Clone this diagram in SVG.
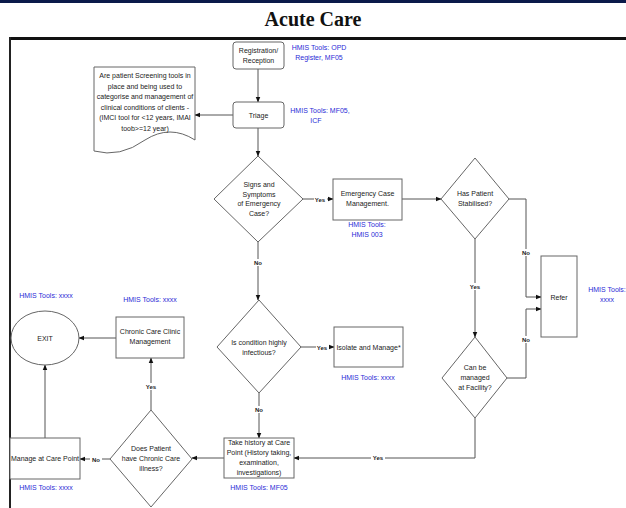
<svg xmlns="http://www.w3.org/2000/svg" width="626" height="508" viewBox="0 0 626 508">
<defs>
<marker id="arr" viewBox="0 0 10 10" refX="9" refY="5" markerWidth="6" markerHeight="6" orient="auto" markerUnits="userSpaceOnUse">
<path d="M0,1 L10,5 L0,9 Z" fill="#111"/>
</marker>
<style>
.box{fill:#fff;stroke:#666;stroke-width:1}
.t{font-family:"Liberation Sans",Arial,sans-serif;font-size:7px;fill:#222;text-anchor:middle}
.h{font-family:"Liberation Sans",Arial,sans-serif;font-size:7px;fill:#2b2bd6;text-anchor:middle}
.c{fill:none;stroke:#555;stroke-width:1}
.lb{font-family:"Liberation Sans",Arial,sans-serif;font-size:6px;font-weight:bold;fill:#222;text-anchor:middle}
.lbg{fill:#fff}
</style>
</defs>
<rect x="0" y="0" width="626" height="508" fill="#fff"/>
<rect x="0" y="0" width="626" height="3" fill="#0b1a4a"/>
<text x="313" y="26" font-family="'Liberation Serif','Times New Roman',serif" font-size="20" font-weight="bold" text-anchor="middle" fill="#111">Acute Care</text>
<line x1="9" y1="38.5" x2="626" y2="38.5" stroke="#111" stroke-width="3"/>
<line x1="10" y1="37" x2="10" y2="508" stroke="#222" stroke-width="2"/>

<g id="connectors">
<path class="c" d="M258,69 V102" marker-end="url(#arr)"/>
<path class="c" d="M233,115 H195" marker-end="url(#arr)"/>
<path class="c" d="M258,128 V156" marker-end="url(#arr)"/>
<path class="c" d="M303,199 H333" marker-end="url(#arr)"/>
<path class="c" d="M402,199 H441" marker-end="url(#arr)"/>
<path class="c" d="M509,199 H526 V297 H541" marker-end="url(#arr)"/>
<path class="c" d="M475,239 V337" marker-end="url(#arr)"/>
<path class="c" d="M507,378 H526 V309 H541" marker-end="url(#arr)"/>
<path class="c" d="M475,418 V458 H294" marker-end="url(#arr)"/>
<path class="c" d="M258,242 V300" marker-end="url(#arr)"/>
<path class="c" d="M301,347 H334" marker-end="url(#arr)"/>
<path class="c" d="M259,393 V438" marker-end="url(#arr)"/>
<path class="c" d="M224,458 H192" marker-end="url(#arr)"/>
<path class="c" d="M110,459 H80" marker-end="url(#arr)"/>
<path class="c" d="M151,410 V358" marker-end="url(#arr)"/>
<path class="c" d="M116,338 H79" marker-end="url(#arr)"/>
<path class="c" d="M45,438 V365" marker-end="url(#arr)"/>
<rect class="lbg" x="314" y="196" width="13" height="7"/><text class="lb" x="320" y="202">Yes</text>
<rect class="lbg" x="253" y="259" width="10" height="7"/><text class="lb" x="258" y="265">No</text>
<rect class="lbg" x="520" y="249" width="12" height="7"/><text class="lb" x="526" y="255">No</text>
<rect class="lbg" x="469" y="283" width="13" height="7"/><text class="lb" x="475" y="289">Yes</text>
<rect class="lbg" x="520" y="336" width="12" height="7"/><text class="lb" x="526" y="342">No</text>
<rect class="lbg" x="371" y="454" width="14" height="7"/><text class="lb" x="378" y="460">Yes</text>
<rect class="lbg" x="316" y="344" width="13" height="7"/><text class="lb" x="322" y="350">Yes</text>
<rect class="lbg" x="254" y="406" width="10" height="7"/><text class="lb" x="259" y="412">No</text>
<rect class="lbg" x="90" y="456" width="12" height="7"/><text class="lb" x="96" y="462">No</text>
<rect class="lbg" x="144" y="383" width="13" height="7"/><text class="lb" x="151" y="389">Yes</text>
</g>

<g id="registration">
<rect class="box" x="233" y="42" width="51" height="27" rx="3"/>
<text class="t" x="258.5" y="53">Registration/</text>
<text class="t" x="258.5" y="63">Reception</text>
<text class="h" x="319" y="50">HMIS Tools: OPD</text>
<text class="h" x="319" y="60">Register, MF05</text>
</g>

<g id="triage">
<rect class="box" x="233" y="102" width="51" height="26" rx="3"/>
<text class="t" x="258.5" y="117.5">Triage</text>
<text class="h" x="320" y="113">HMIS Tools: MF05,</text>
<text class="h" x="316" y="123">ICF</text>
</g>

<g id="screening">
<path class="box" d="M94,67 H195 V140 Q170,124 145,140 Q120,158 94,151 Z"/>
<text class="t" x="145" y="78">Are patient Screening tools in</text>
<text class="t" x="145" y="88.5">place and being used to</text>
<text class="t" x="145" y="99">categorise and management of</text>
<text class="t" x="145" y="109.5">clinical conditions of clients -</text>
<text class="t" x="145" y="120">(IMCI tool for &lt;12 years, IMAI</text>
<text class="t" x="145" y="130.5">toob&gt;=12 year)</text>
</g>

<g id="emergency-decision">
<path class="box" d="M258,156 L303,199 L258,242 L214,199 Z"/>
<text class="t" x="259" y="187">Signs and</text>
<text class="t" x="259" y="196.5">Symptoms</text>
<text class="t" x="259" y="206">of Emergency</text>
<text class="t" x="259" y="215.5">Case?</text>
</g>

<g id="emergency-management">
<rect class="box" x="333" y="179" width="69" height="41"/>
<text class="t" x="367.5" y="196">Emergency Case</text>
<text class="t" x="367.5" y="206">Management.</text>
<text class="h" x="367" y="227">HMIS Tools:</text>
<text class="h" x="367" y="237">HMIS 003</text>
</g>

<g id="stabilised">
<path class="box" d="M475,158 L509,199 L475,239 L441,199 Z"/>
<text class="t" x="475" y="196">Has Patient</text>
<text class="t" x="475" y="206">Stabilised?</text>
</g>

<g id="refer">
<rect class="box" x="541" y="256" width="36" height="81"/>
<text class="t" x="559" y="299.5">Refer</text>
<text class="h" x="607" y="292">HMIS Tools:</text>
<text class="h" x="607" y="302">xxxx</text>
</g>

<g id="managed-facility">
<path class="box" d="M475,337 L507,378 L475,418 L442,378 Z"/>
<text class="t" x="475" y="370">Can be</text>
<text class="t" x="475" y="380">managed</text>
<text class="t" x="475" y="390">at Facility?</text>
</g>

<g id="infectious">
<path class="box" d="M259,300 L301,347 L259,393 L217,347 Z"/>
<text class="t" x="259" y="345">Is condition highly</text>
<text class="t" x="259" y="355">infectious?</text>
</g>

<g id="isolate">
<rect class="box" x="334" y="327" width="69" height="40"/>
<text class="t" x="368.5" y="349.5">Isolate and Manage*</text>
<text class="h" x="368" y="380">HMIS Tools: xxxx</text>
</g>

<g id="take-history">
<rect class="box" x="224" y="438" width="70" height="40"/>
<text class="t" x="259" y="445">Take history at Care</text>
<text class="t" x="259" y="455">Point (History taking,</text>
<text class="t" x="259" y="465">examination,</text>
<text class="t" x="259" y="475">investigations)</text>
<text class="h" x="259" y="490">HMIS Tools: MF05</text>
</g>

<g id="chronic-decision">
<path class="box" d="M151,410 L192,459 L151,507 L110,459 Z"/>
<text class="t" x="151" y="451">Does Patient</text>
<text class="t" x="151" y="461">have Chronic Care</text>
<text class="t" x="151" y="471">illness?</text>
</g>

<g id="manage-care-point">
<rect class="box" x="10" y="438" width="70" height="41"/>
<text class="t" x="45" y="461">Manage at Care Point</text>
<text class="h" x="46" y="490">HMIS Tools: xxxx</text>
</g>

<g id="chronic-clinic">
<rect class="box" x="116" y="317" width="68" height="41"/>
<text class="t" x="150" y="334">Chronic Care Clinic</text>
<text class="t" x="150" y="344">Management</text>
<text class="h" x="150" y="302">HMIS Tools: xxxx</text>
</g>

<g id="exit">
<ellipse class="box" cx="45" cy="338" rx="34" ry="27"/>
<text class="t" x="45" y="340.5">EXIT</text>
<text class="h" x="46" y="298">HMIS Tools: xxxx</text>
</g>
</svg>
